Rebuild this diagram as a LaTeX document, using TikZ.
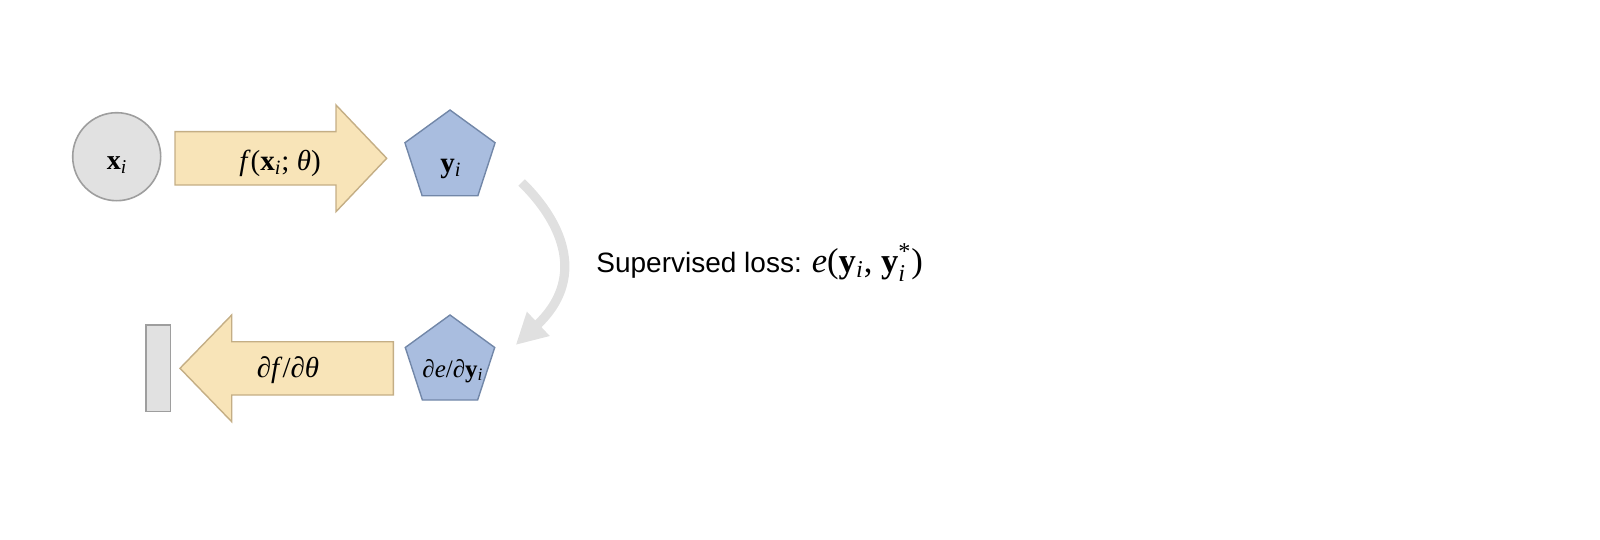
\documentclass[tikz,border=0pt]{standalone}
\usepackage{fontspec}
\usepackage{amsmath}
\usetikzlibrary{arrows.meta,shapes.geometric}
\newfontfamily\tms{Liberation Serif}
\newfontfamily\arial{Liberation Sans}
\definecolor{greyfill}{HTML}{E1E1E1}
\definecolor{greydraw}{HTML}{9E9E9E}
\definecolor{arrfill}{HTML}{F8E4B8}
\definecolor{arrdraw}{HTML}{C4AE85}
\definecolor{pentfill}{HTML}{A9BDDF}
\definecolor{pentdraw}{HTML}{7287A8}
\definecolor{curvecol}{HTML}{E0E0E0}
\tikzset{
  greyshape/.style={fill=greyfill, draw=greydraw, line width=0.8pt},
  arrowshape/.style={fill=arrfill, draw=arrdraw, line width=0.7pt},
  pentshape/.style={regular polygon, regular polygon sides=5, fill=pentfill, draw=pentdraw, line width=0.7pt, inner sep=0pt},
  lbl/.style={inner sep=0pt, font=\tms\fontsize{14.5}{16}\selectfont},
  lossarrow/.style={draw=curvecol, line width=4.6pt, -{Triangle[length=15.5pt,width=15.5pt]}}
}
\begin{document}
\begin{tikzpicture}[x=0.5pt, y=-0.5pt]
\useasboundingbox (0,0) rectangle (1600,540);
% input circle
\node[circle, greyshape, minimum size=44pt, inner sep=0pt] (xin) at (116.7,156.7) {};
\node[lbl, font=\tms\fontsize{14}{16}\selectfont] (xlbl) at (117,165) {\textbf{x}\textsubscript{\textit{i}}};
% forward arrow
\draw[arrowshape] (175,131.7) -- (336,131.7) -- (336,105) -- (386.7,158.3) -- (336,211.7) -- (336,185) -- (175,185) -- cycle;
\node[lbl] (fwd) at (280,163) {\textit{f}(\textbf{x}\textsubscript{\textit{i}}; \textit{θ})};
% output pentagon
\node[pentshape, minimum size=47.4pt] (yout) at (450,157.4) {};
\node[lbl] (ylbl) at (451,169) {\textbf{y}\textsubscript{\textit{i}}};
% gradient pentagon
\node[pentshape, minimum size=47pt] (grad) at (450,362) {};
\node[lbl, font=\tms\fontsize{12.5}{14}\selectfont] (glbl) at (453,371) {\textit{∂e}/\textit{∂}\textbf{y}\textsubscript{\textit{i}}};
% backward arrow
\draw[arrowshape] (393.3,341.7) -- (231.7,341.7) -- (231.7,315) -- (180,368.3) -- (231.7,421.7) -- (231.7,395) -- (393.3,395) -- cycle;
\node[lbl] (bwd) at (288,370) {\textit{∂f}/\textit{∂θ}};
% parameter bar
\node[rectangle, greyshape, minimum width=12.3pt, minimum height=43.3pt, inner sep=0pt] (param) at (158.3,368.3) {};
% loss curve
\coordinate (cstart) at (521.7,182.5);
\coordinate (cend) at (515.7,345);
\draw[lossarrow] (cstart) .. controls (565,225) and (585,280) .. (cend);
% loss text
\node[anchor=base west, inner sep=0pt] (loss) at (596,272) {{\arial\fontsize{14}{16}\selectfont Supervised loss:}\hspace{5pt}{\tms\fontsize{17.3}{19}\selectfont\textit{e}(\textbf{y}\textsubscript{\textit{i}}, \textbf{y}$^{\text{*}}_{\textit{i}}$)}};
\end{tikzpicture}
\end{document}
